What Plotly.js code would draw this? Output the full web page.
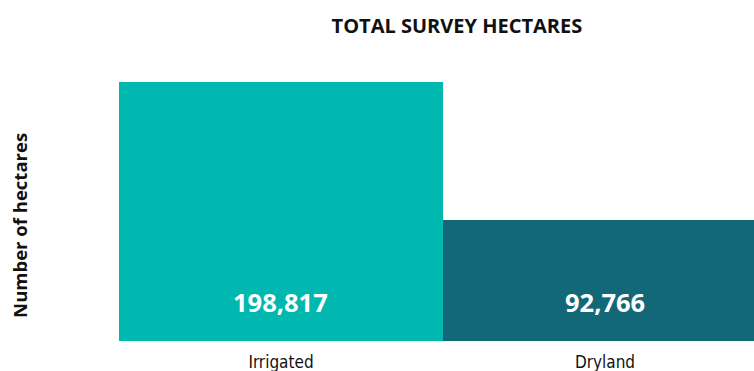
<!DOCTYPE html>
<html>
<head>
<meta charset="utf-8">
<script src="https://cdn.plot.ly/plotly-3.0.1.min.js"></script>
<style>
html,body{margin:0;padding:0;background:#fff;}
#chart{width:754px;height:371px;}
.xtick text{font-stretch:condensed !important;}
</style>
</head>
<body>
<div id="chart"></div>
<script>
const categories = ["Irrigated", "Dryland"];
const hectares = [198817, 92766];
const valueLabels = ["198,817", "92,766"];
const barColors = ["#00B8B0", "#136877"];
const chartTitle = "TOTAL SURVEY HECTARES";
const yTitle = "Number of hectares";

const trace = {
  type: "bar",
  x: categories,
  y: hectares,
  marker: { color: barColors, line: { width: 0 } },
  hoverinfo: "none",
  width: 1
};

const annotations = categories.map((c, i) => ({
  x: c, y: 0, xref: "x", yref: "y",
  text: valueLabels[i], showarrow: false,
  yanchor: "bottom", yshift: 20,
  font: { family: "Open Sans", size: 25.5, color: "#ffffff", weight: "bold" }
}));
annotations.push({
  xref: "paper", yref: "paper", x: -0.156, y: 0.413,
  xanchor: "center", yanchor: "middle",
  text: "<b>" + yTitle + "</b>", textangle: -90, showarrow: false,
  font: { family: "Open Sans", size: 18.5, color: "#111111" }
});

const layout = {
  width: 754, height: 371,
  margin: { l: 119, r: 0, t: 60, b: 30, pad: 0 },
  paper_bgcolor: "#ffffff", plot_bgcolor: "#ffffff",
  showlegend: false,
  bargap: 0,
  title: {
    text: "<b>" + chartTitle + "</b>",
    x: 0.606, xanchor: "center", xref: "container",
    y: 0.93, yref: "container", yanchor: "middle",
    font: { family: "Open Sans", size: 20, color: "#111111" }
  },
  xaxis: {
    type: "category", range: [-0.5, 1.46],
    showline: false, showgrid: false, zeroline: false, ticks: "",
    ticklabelstandoff: 9,
    tickfont: { family: "DejaVu Sans", size: 17, color: "#111111" },
    fixedrange: true
  },
  yaxis: {
    range: [0, 215700], showticklabels: false, showgrid: false,
    zeroline: false, showline: false, ticks: "", fixedrange: true
  },
  annotations: annotations
};

Plotly.newPlot("chart", [trace], layout, { displayModeBar: false, staticPlot: true });
</script>
</body>
</html>
